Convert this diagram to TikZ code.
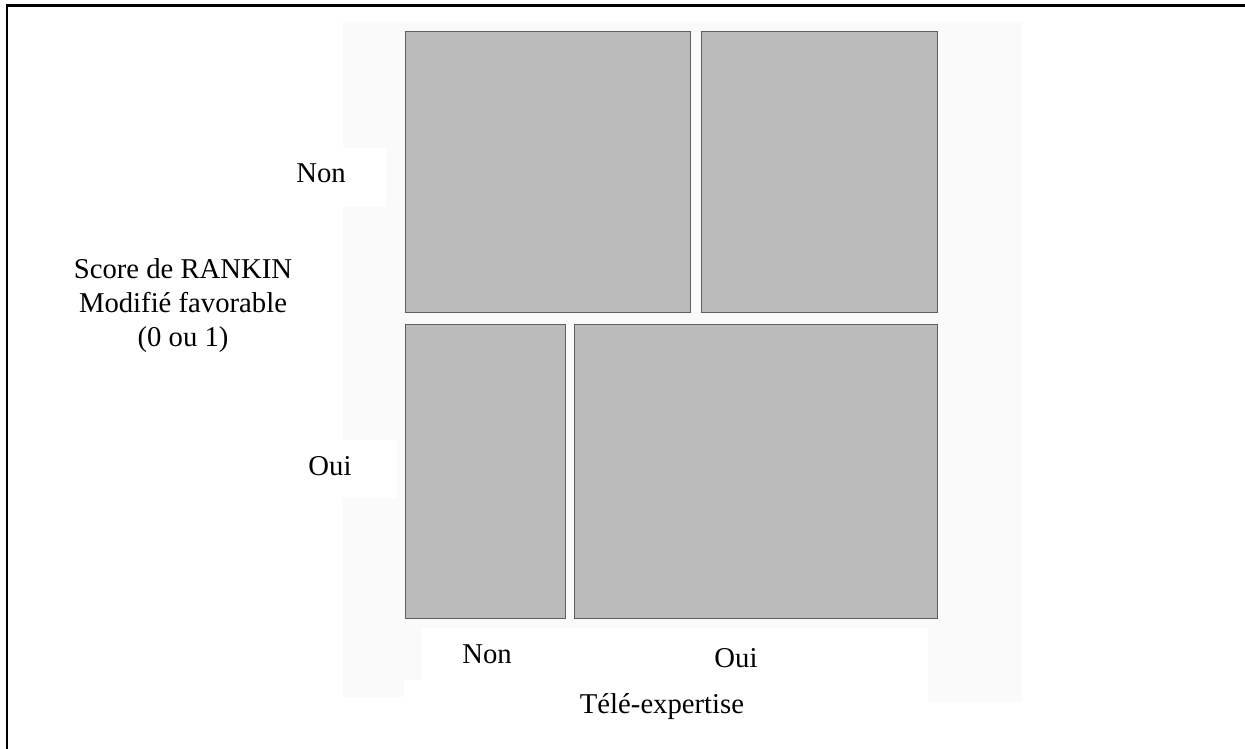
\documentclass[tikz,border=0pt]{standalone}
\usepackage{fontspec}
\setmainfont{Liberation Serif}
\begin{document}
\begin{tikzpicture}[x=1pt,y=-1pt,
  cell/.style={fill=cellgray,draw=edgegray,line width=1.2pt},
  lab/.style={inner sep=0pt,font=\fontsize{28.7}{34}\selectfont},
  faint/.style={fill=faintbg,draw=none}]
\definecolor{cellgray}{HTML}{BBBBBB}
\definecolor{edgegray}{HTML}{5E5E5E}
\definecolor{faintbg}{HTML}{FAFAFA}
\useasboundingbox (0,0) rectangle (1245,749);
% frame
\draw[line width=2.6pt] (7,750) -- (7,5.5) -- (1250,5.5);
% faint plot background with white label patches
\fill[faintbg] (343,22) rectangle (1022,702);
\fill[white] (343,148) rectangle (386,207);
\fill[white] (343,440) rectangle (397,498);
\fill[white] (422,628) rectangle (928,702);
\fill[white] (404,680) rectangle (422,702);
\fill[white] (343,697) rectangle (404,702);
% mosaic cells
\node[cell,inner sep=0pt,anchor=north west,minimum width=285pt,minimum height=281pt] (nn) at (405,31) {};
\node[cell,inner sep=0pt,anchor=north west,minimum width=236pt,minimum height=281pt] (no) at (701,31) {};
\node[cell,inner sep=0pt,anchor=north west,minimum width=160pt,minimum height=294pt] (on) at (405,324) {};
\node[cell,inner sep=0pt,anchor=north west,minimum width=363pt,minimum height=294pt] (oo) at (574,324) {};
% labels
\node[lab] (rnon) at (321,173) {Non};
\node[lab] (roui) at (330,466) {Oui};
\node[lab,align=center] (ytitle) at (183,306) {Score de RANKIN\\Modifié favorable\\(0 ou 1)};
\node[lab] (cnon) at (487,654) {Non};
\node[lab] (coui) at (736,658) {Oui};
\node[lab] (xtitle) at (662,707) {Télé-expertise};
\end{tikzpicture}
\end{document}
